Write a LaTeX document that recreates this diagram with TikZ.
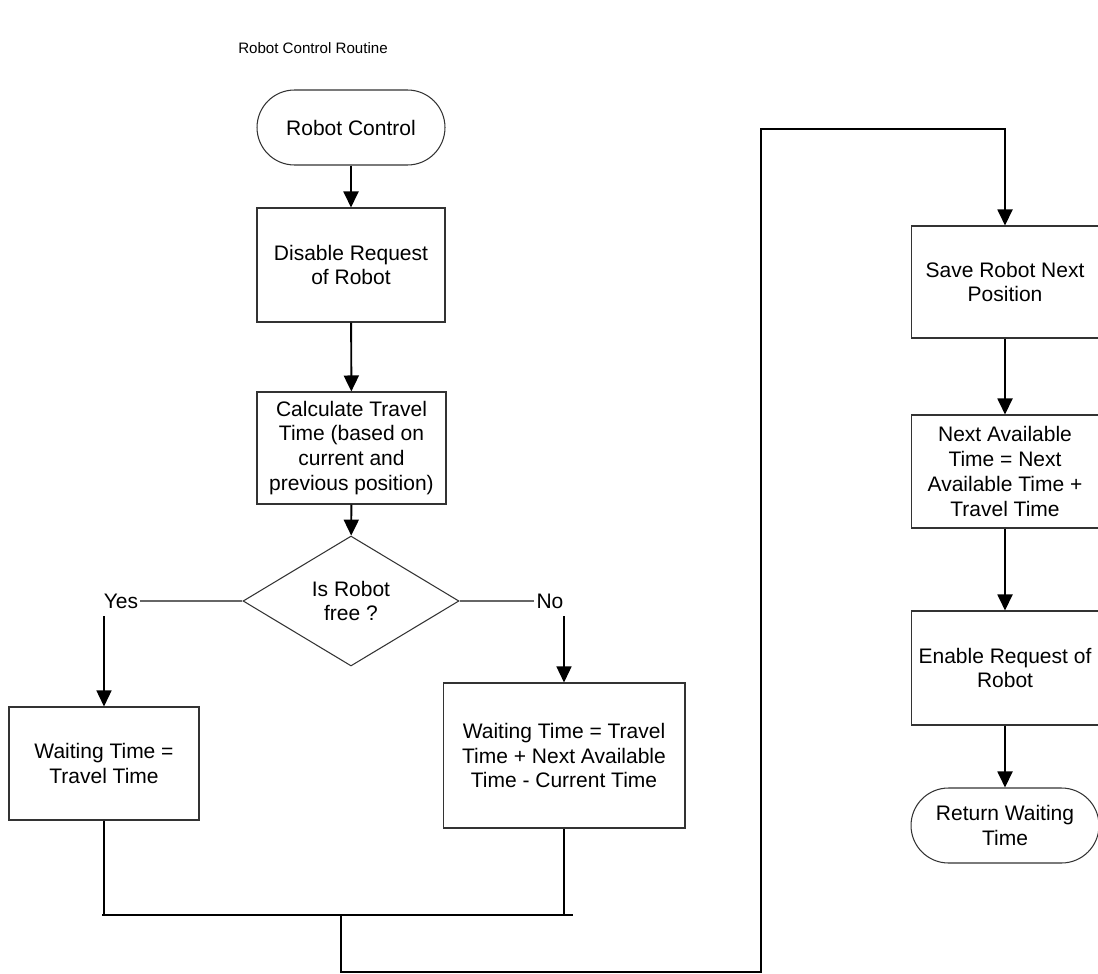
\documentclass[tikz,border=0pt]{standalone}
\usepackage{fontspec}
\setmainfont{Liberation Sans}
\usetikzlibrary{arrows.meta,shapes.geometric}
\begin{document}
\begin{tikzpicture}[x=0.02cm,y=-0.02cm,
  font=\fontsize{11.95}{14.2}\selectfont,
  box/.style={draw=black!80, line width=0.6pt, align=center, inner sep=0pt},
  term/.style={box, rounded corners=0.75cm},
  flow/.style={line width=1.1pt, -{Triangle[width=0.3cm,length=0.32cm]}},
  link/.style={line width=1.1pt},
  branch/.style={draw=black!60, line width=0.8pt},
  lbl/.style={inner sep=1pt},
  heading/.style={font=\fontsize{8.6}{10}\selectfont}]
\useasboundingbox (0,0) rectangle (1098,973);

% title
\node[heading] (title) at (313,48) {Robot Control Routine};

% left column
\node[term, minimum width=3.76cm, minimum height=1.5cm] (start) at (351,127.5) {Robot Control};
\node[box, minimum width=3.76cm, minimum height=2.28cm] (disable) at (351,265) {Disable Request\\of Robot};
\node[box, minimum width=3.78cm, minimum height=2.24cm] (calc) at (351.5,448) {Calculate Travel\\Time (based on\\current and\\previous position)};
\node[box, shape=diamond, aspect=1.66, minimum width=4.32cm, minimum height=2.6cm] (decide) at (351,601) {Is Robot\\free ?};

% branches
\node[lbl] (yes) at (121,601) {Yes};
\node[lbl] (no) at (550,601) {No};
\coordinate (yesdown) at (104,616);
\coordinate (nodown) at (564,616);
\node[box, minimum width=3.8cm, minimum height=2.26cm] (waitfree) at (104,763.5) {Waiting Time =\\Travel Time};
\node[box, minimum width=4.84cm, minimum height=2.9cm] (waitbusy) at (564,755.5) {Waiting Time = Travel\\Time + Next Available\\Time - Current Time};

% right column
\node[box, minimum width=3.76cm, minimum height=2.24cm] (save) at (1005,282) {Save Robot Next\\Position};
\node[box, minimum width=3.76cm, minimum height=2.26cm] (nextav) at (1005,471.5) {Next Available\\Time = Next\\Available Time +\\Travel Time};
\node[box, minimum width=3.76cm, minimum height=2.28cm] (enable) at (1005,668) {Enable Request of\\Robot};
\node[term, minimum width=3.76cm, minimum height=1.5cm] (ret) at (1005,825.5) {Return Waiting\\Time};

% junction and loop corners
\coordinate (join) at (341,915);
\coordinate (loopbot) at (341,972);
\coordinate (loopcorner) at (761,972);
\coordinate (looptop) at (761,129);

% connectors
\draw[flow] (start) -- (disable);
\draw[flow] (disable) -- (calc);
\draw[flow] (calc) -- (decide);
\draw[branch] (decide.west) -- (yes.east);
\draw[branch] (decide.east) -- (no.west);
\draw[flow, line width=0.8pt] (yesdown) -- (waitfree.north);
\draw[flow, line width=0.8pt] (nodown) -- (waitbusy.north);
\draw[link] (waitfree.south) -- (waitfree.south |- join);
\draw[link] (waitbusy.south) -- (waitbusy.south |- join);
\draw[link] ([xshift=-1]waitfree.south |- join) -- ([xshift=5]waitbusy.south |- join);
\draw[flow] (join) -- (loopbot) -- (loopcorner) -- (looptop) -| (save.north);
\draw[flow] (save) -- (nextav);
\draw[flow] (nextav) -- (enable);
\draw[flow] (enable) -- (ret);
\end{tikzpicture}
\end{document}
